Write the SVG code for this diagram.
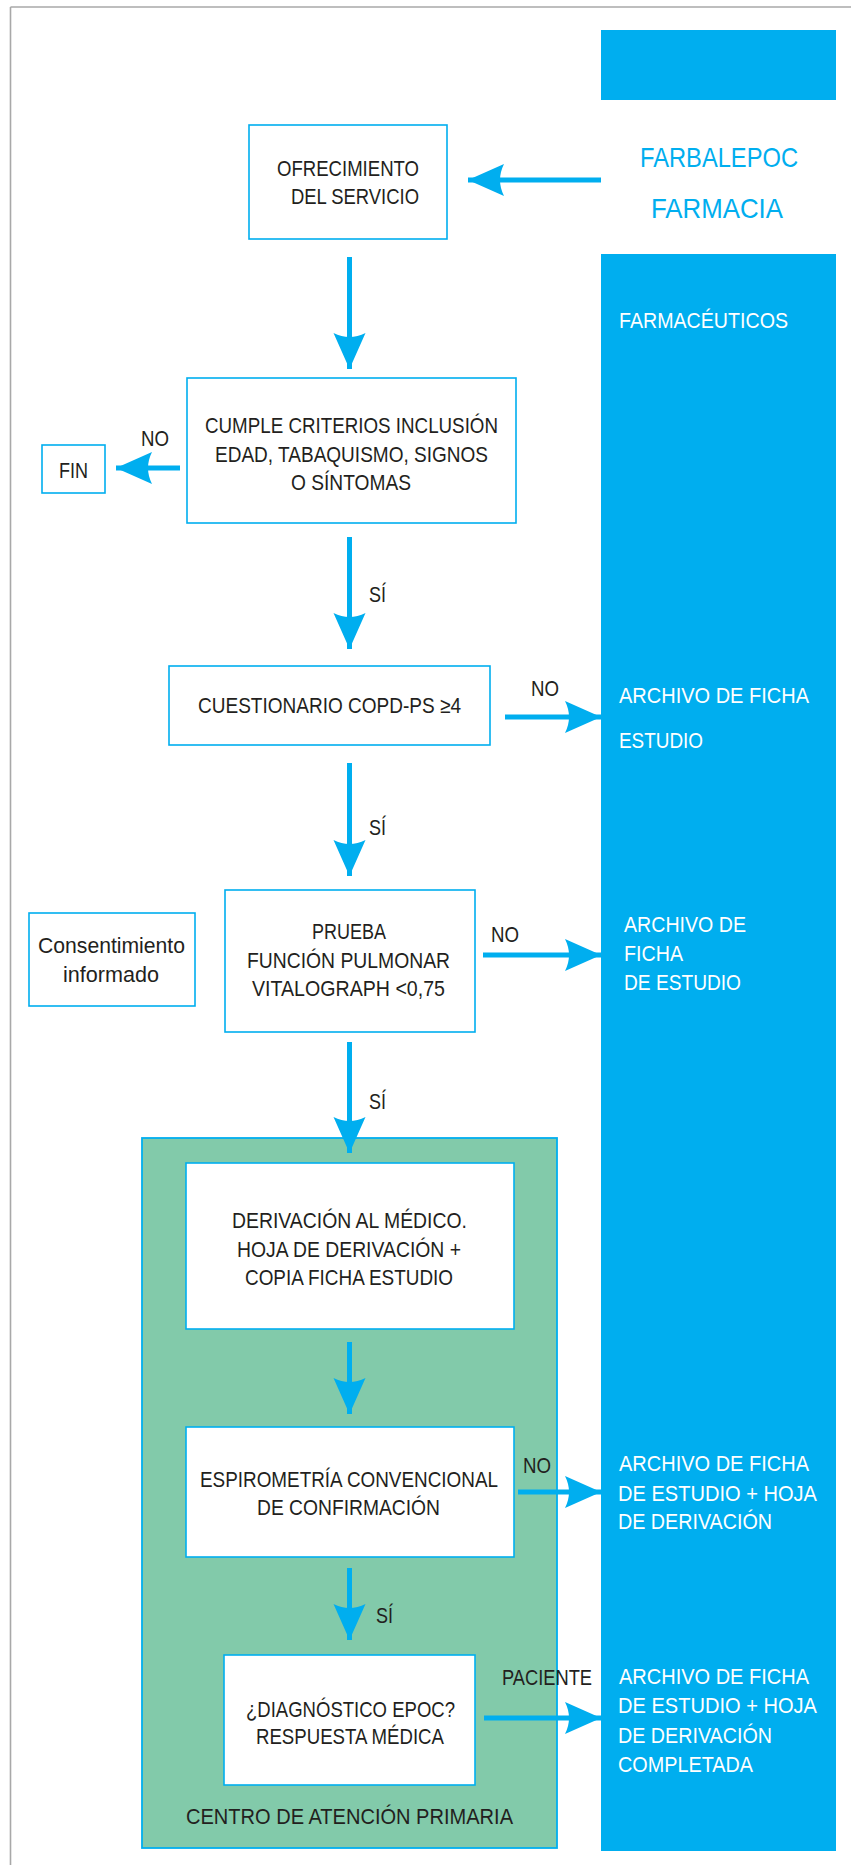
<svg xmlns="http://www.w3.org/2000/svg" width="851" height="1865" viewBox="0 0 851 1865">
<style>
text{font-family:"Liberation Sans Narrow","Liberation Sans",Arial,sans-serif;font-size:22px;fill:#231f20}
.w{fill:#ffffff}
.b{fill:#00aeef;font-size:28px}
.box{fill:#ffffff;stroke:#00aeef;stroke-width:1.6}
.col{fill:#00aeef}
.conn{stroke:#00aeef;stroke-width:5;fill:none}
</style>
<defs>
<marker id="ah" markerUnits="userSpaceOnUse" viewBox="-40 -20 44 40" refX="0" refY="0" markerWidth="44" markerHeight="40" orient="auto">
<path d="M0,0 L-36,-16 Q-28,0 -36,16 Z" fill="#00aeef"/>
</marker>
</defs>
<g id="frame">
<line x1="10.5" y1="7" x2="851" y2="7" stroke="#a8a8a8" stroke-width="1.6"/>
<line x1="10.5" y1="7" x2="10.5" y2="1865" stroke="#a8a8a8" stroke-width="1.6"/>
</g>
<g id="column-top"><rect class="col" x="601" y="30" width="235" height="70"/></g>
<g id="column-main"><rect class="col" x="601" y="254" width="235" height="1597"/></g>
<g id="centro-atencion">
<rect x="142" y="1138" width="415" height="710" fill="#82caaa" stroke="#00aeef" stroke-width="1.8"/>
<text x="186" y="1824" textLength="327" lengthAdjust="spacingAndGlyphs">CENTRO DE ATENCIÓN PRIMARIA</text>
</g>
<g id="farbalepoc">
<text class="b" x="640" y="167" textLength="158" lengthAdjust="spacingAndGlyphs">FARBALEPOC</text>
<text class="b" x="651" y="218" textLength="132" lengthAdjust="spacingAndGlyphs">FARMACIA</text>
</g>
<g id="farmaceuticos"><text class="w" x="619" y="328" textLength="169" lengthAdjust="spacingAndGlyphs">FARMACÉUTICOS</text></g>
<g id="ofrecimiento">
<rect class="box" x="249" y="125" width="198" height="114"/>
<text x="277" y="176" textLength="142" lengthAdjust="spacingAndGlyphs">OFRECIMIENTO</text>
<text x="291" y="204" textLength="128" lengthAdjust="spacingAndGlyphs">DEL SERVICIO</text>
</g>
<g id="criterios">
<rect class="box" x="187" y="378" width="329" height="145"/>
<text x="205" y="433" textLength="293" lengthAdjust="spacingAndGlyphs">CUMPLE CRITERIOS INCLUSIÓN</text>
<text x="215" y="462" textLength="273" lengthAdjust="spacingAndGlyphs">EDAD, TABAQUISMO, SIGNOS</text>
<text x="291" y="490" textLength="120" lengthAdjust="spacingAndGlyphs">O SÍNTOMAS</text>
</g>
<g id="fin">
<rect class="box" x="42" y="445" width="63" height="48"/>
<text x="59" y="478" textLength="29" lengthAdjust="spacingAndGlyphs">FIN</text>
</g>
<g id="cuestionario">
<rect class="box" x="169" y="666" width="321" height="79"/>
<text x="198" y="713" textLength="263" lengthAdjust="spacingAndGlyphs">CUESTIONARIO COPD-PS ≥4</text>
</g>
<g id="archivo-1">
<text class="w" x="619" y="703" textLength="190" lengthAdjust="spacingAndGlyphs">ARCHIVO DE FICHA</text>
<text class="w" x="619" y="748" textLength="84" lengthAdjust="spacingAndGlyphs">ESTUDIO</text>
</g>
<g id="consentimiento">
<rect class="box" x="29" y="913" width="166" height="93"/>
<text x="38" y="953" textLength="147" lengthAdjust="spacingAndGlyphs">Consentimiento</text>
<text x="63" y="982" textLength="96" lengthAdjust="spacingAndGlyphs">informado</text>
</g>
<g id="prueba">
<rect class="box" x="225" y="890" width="250" height="142"/>
<text x="312" y="939" textLength="74" lengthAdjust="spacingAndGlyphs">PRUEBA</text>
<text x="247" y="968" textLength="203" lengthAdjust="spacingAndGlyphs">FUNCIÓN PULMONAR</text>
<text x="252" y="996" textLength="193" lengthAdjust="spacingAndGlyphs">VITALOGRAPH &lt;0,75</text>
</g>
<g id="archivo-2">
<text class="w" x="624" y="932" textLength="122" lengthAdjust="spacingAndGlyphs">ARCHIVO DE</text>
<text class="w" x="624" y="961" textLength="59" lengthAdjust="spacingAndGlyphs">FICHA</text>
<text class="w" x="624" y="990" textLength="117" lengthAdjust="spacingAndGlyphs">DE ESTUDIO</text>
</g>
<g id="derivacion">
<rect class="box" x="186" y="1163" width="328" height="166"/>
<text x="232" y="1228" textLength="235" lengthAdjust="spacingAndGlyphs">DERIVACIÓN AL MÉDICO.</text>
<text x="237" y="1257" textLength="224" lengthAdjust="spacingAndGlyphs">HOJA DE DERIVACIÓN +</text>
<text x="245" y="1285" textLength="208" lengthAdjust="spacingAndGlyphs">COPIA FICHA ESTUDIO</text>
</g>
<g id="espirometria">
<rect class="box" x="186" y="1427" width="328" height="130"/>
<text x="200" y="1487" textLength="298" lengthAdjust="spacingAndGlyphs">ESPIROMETRÍA CONVENCIONAL</text>
<text x="257" y="1515" textLength="183" lengthAdjust="spacingAndGlyphs">DE CONFIRMACIÓN</text>
</g>
<g id="archivo-3">
<text class="w" x="619" y="1471" textLength="190" lengthAdjust="spacingAndGlyphs">ARCHIVO DE FICHA</text>
<text class="w" x="618" y="1501" textLength="199" lengthAdjust="spacingAndGlyphs">DE ESTUDIO + HOJA</text>
<text class="w" x="618" y="1529" textLength="154" lengthAdjust="spacingAndGlyphs">DE DERIVACIÓN</text>
</g>
<g id="diagnostico">
<rect class="box" x="224" y="1655" width="251" height="130"/>
<text x="246" y="1717" textLength="209" lengthAdjust="spacingAndGlyphs">¿DIAGNÓSTICO EPOC?</text>
<text x="256" y="1744" textLength="188" lengthAdjust="spacingAndGlyphs">RESPUESTA MÉDICA</text>
</g>
<g id="archivo-4">
<text class="w" x="619" y="1684" textLength="190" lengthAdjust="spacingAndGlyphs">ARCHIVO DE FICHA</text>
<text class="w" x="618" y="1713" textLength="199" lengthAdjust="spacingAndGlyphs">DE ESTUDIO + HOJA</text>
<text class="w" x="618" y="1743" textLength="154" lengthAdjust="spacingAndGlyphs">DE DERIVACIÓN</text>
<text class="w" x="618" y="1772" textLength="135" lengthAdjust="spacingAndGlyphs">COMPLETADA</text>
</g>
<g id="connectors">
<line class="conn" x1="601" y1="180" x2="468" y2="180" marker-end="url(#ah)"/>
<line class="conn" x1="349.5" y1="257" x2="349.5" y2="369" marker-end="url(#ah)"/>
<line class="conn" x1="180" y1="468" x2="116" y2="468" marker-end="url(#ah)"/>
<line class="conn" x1="349.5" y1="537" x2="349.5" y2="649" marker-end="url(#ah)"/>
<line class="conn" x1="505" y1="717" x2="601" y2="717" marker-end="url(#ah)"/>
<line class="conn" x1="349.5" y1="763" x2="349.5" y2="876" marker-end="url(#ah)"/>
<line class="conn" x1="483" y1="955" x2="601" y2="955" marker-end="url(#ah)"/>
<line class="conn" x1="349.5" y1="1042" x2="349.5" y2="1153" marker-end="url(#ah)"/>
<line class="conn" x1="349.5" y1="1342" x2="349.5" y2="1414" marker-end="url(#ah)"/>
<line class="conn" x1="518" y1="1492" x2="601" y2="1492" marker-end="url(#ah)"/>
<line class="conn" x1="349.5" y1="1568" x2="349.5" y2="1640" marker-end="url(#ah)"/>
<line class="conn" x1="484" y1="1718" x2="601" y2="1718" marker-end="url(#ah)"/>
<text x="141" y="446" textLength="28" lengthAdjust="spacingAndGlyphs">NO</text>
<text x="369" y="602" textLength="17" lengthAdjust="spacingAndGlyphs">SÍ</text>
<text x="531" y="696" textLength="28" lengthAdjust="spacingAndGlyphs">NO</text>
<text x="369" y="835" textLength="17" lengthAdjust="spacingAndGlyphs">SÍ</text>
<text x="491" y="942" textLength="28" lengthAdjust="spacingAndGlyphs">NO</text>
<text x="369" y="1109" textLength="17" lengthAdjust="spacingAndGlyphs">SÍ</text>
<text x="523" y="1473" textLength="28" lengthAdjust="spacingAndGlyphs">NO</text>
<text x="376" y="1623" textLength="17" lengthAdjust="spacingAndGlyphs">SÍ</text>
<text x="502" y="1685" textLength="90" lengthAdjust="spacingAndGlyphs">PACIENTE</text>
</g>
</svg>
